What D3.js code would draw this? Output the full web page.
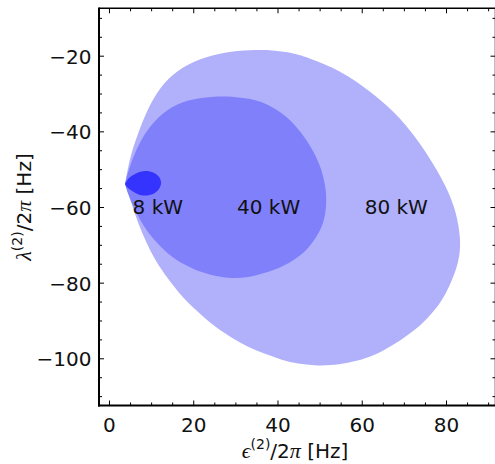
<!DOCTYPE html>
<html><head><meta charset="utf-8">
<script src="https://cdn.jsdelivr.net/npm/d3@7"></script>
<style>body{margin:0;background:#fff}svg{display:block}</style>
</head><body><svg id="c" width="495" height="464"></svg>
<script>
// ---- data ----
const xTicks = [0, 20, 40, 60, 80];
const yTicks = [-20, -40, -60, -80, -100];
const xMinorTicks = [5, 10, 15, 25, 30, 35, 45, 50, 55, 65, 70, 75, 85, 90];
const yMinorTicks = [-110, -105, -95, -90, -85, -75, -70, -65, -55, -50, -45, -35, -30, -25, -15, -10];

const region80 = [[3.80,-53.92],[4.99,-46.78],[6.65,-41.23],[9.02,-34.36],[12.11,-28.27],[16.14,-23.78],
  [21.60,-20.74],[27.54,-19.02],[33.47,-18.49],[38.93,-18.49],[42.97,-19.15],[46.99,-20.34],
  [54.84,-23.78],[62.67,-29.86],[69.08,-36.21],[74.54,-44.14],[79.29,-52.86],[82.14,-60.0],
  [83.32,-66.87],[83.44,-71.37],[82.61,-76.13],[80.95,-80.62],[79.05,-84.85],[75.73,-89.35],
  [72.64,-92.52],[69.08,-95.43],[65.04,-98.07],[60.77,-100.19],[56.73,-101.24],[52.46,-101.91],
  [48.90,-101.91],[44.86,-101.51],[41.07,-100.45],[37.04,-98.86],[33.0,-97.01],[29.20,-94.63],
  [25.16,-91.72],[21.13,-87.76],[17.33,-83.79],[14.01,-79.03],[10.92,-74.01],[8.78,-69.25],
  [6.89,-64.23],[5.46,-59.47],[4.51,-56.03],[3.80,-53.92]];
const region40 = [[3.80,-53.92],[4.75,-49.69],[7.36,-42.29],[11.39,-36.21],[16.14,-32.51],[21.60,-31.05],
  [27.06,-30.65],[31.10,-31.05],[35.85,-31.71],[41.30,-35.15],[44.39,-38.59],[47.0,-42.29],
  [50.09,-48.37],[51.75,-55.51],[51.51,-62.12],[50.09,-66.61],[47.48,-70.84],[44.39,-73.75],
  [41.07,-75.86],[37.03,-77.45],[32.99,-78.64],[29.20,-78.90],[25.16,-78.24],[21.13,-77.05],
  [17.80,-75.20],[14.72,-73.09],[11.87,-70.05],[9.26,-66.87],[7.36,-63.44],[5.70,-59.74],
  [4.51,-56.56],[3.80,-53.92]];
const region8 = [[3.80,-53.92],[4.75,-52.33],[6.41,-51.14],[8.07,-50.56],[9.73,-50.61],[11.16,-51.28],
  [12.11,-52.47],[12.35,-53.79],[11.87,-55.24],[10.68,-56.43],[9.02,-56.96],[7.36,-56.83],
  [5.70,-55.90],[4.51,-54.98],[3.80,-53.92]];

const labelTexts = ["8 kW", "40 kW", "80 kW"];
const labelX = [11.6, 37.9, 68.2];
const labelY = [-60, -60, -60];

// ---- styles ----
const regionColors = ["#b0b0fb", "#8080fb", "#3434fe"];

const svg = d3.select("#c");
const x = d3.scaleLinear().domain([-2.37, 91.75]).range([99, 495.5]);
const y = d3.scaleLinear().domain([-112.48, -7.47]).range([405.5, 8.3]);

const smooth = d3.line().x(d => x(d[0])).y(d => y(d[1])).curve(d3.curveBasis);
const exact = d3.line().x(d => x(d[0])).y(d => y(d[1])).curve(d3.curveCatmullRom.alpha(0.5));
svg.append("path").attr("d", smooth(region80) + "Z").attr("fill", regionColors[0]);
svg.append("path").attr("d", smooth(region40) + "Z").attr("fill", regionColors[1]);
svg.append("path").attr("d", exact(region8) + "Z").attr("fill", regionColors[2]);

const font = "DejaVu Sans";
svg.selectAll("text.lab").data(labelTexts).join("text").attr("class", "lab")
  .attr("x", (d, i) => x(labelX[i])).attr("y", (d, i) => y(labelY[i]))
  .attr("text-anchor", "middle").attr("dy", "0.36em")
  .style("font-family", font).style("font-size", "20px").attr("fill", "#111")
  .text(d => d);

function styleAxis(g) {
  g.select(".domain").remove();
  g.selectAll(".tick line").attr("stroke", "#000").attr("stroke-width", 1);
  g.selectAll("text").style("font-family", font).style("font-size", "20px").attr("fill", "#111");
}
// bottom
const gb = svg.append("g").attr("transform", "translate(0,405.5)");
gb.call(d3.axisBottom(x).tickValues(xTicks).tickSize(-5).tickPadding(13).tickFormat(d3.format("d")));
styleAxis(gb);
gb.selectAll(".tick text").attr("y", 12).attr("dy", "0.71em");
const gbm = svg.append("g").attr("transform", "translate(0,405.5)");
gbm.call(d3.axisBottom(x).tickValues(xMinorTicks).tickSize(-3).tickFormat(""));
styleAxis(gbm);
// top
const gt = svg.append("g").attr("transform", "translate(0,8.3)");
gt.call(d3.axisBottom(x).tickValues(xTicks).tickSize(5).tickFormat(""));
styleAxis(gt);
const gtm = svg.append("g").attr("transform", "translate(0,8.3)");
gtm.call(d3.axisBottom(x).tickValues(xMinorTicks).tickSize(3).tickFormat(""));
styleAxis(gtm);
// left
const gl = svg.append("g").attr("transform", "translate(99,0)");
gl.call(d3.axisLeft(y).tickValues(yTicks).tickSize(-5).tickPadding(8));
styleAxis(gl);
gl.selectAll(".tick text").attr("x", -7.5).attr("dy", "0.37em");
const glm = svg.append("g").attr("transform", "translate(99,0)");
glm.call(d3.axisLeft(y).tickValues(yMinorTicks).tickSize(-3).tickFormat(""));
styleAxis(glm);
// right
const gr = svg.append("g").attr("transform", "translate(495.5,0)");
gr.call(d3.axisLeft(y).tickValues(yTicks).tickSize(5).tickFormat(""));
styleAxis(gr);
const grm = svg.append("g").attr("transform", "translate(495.5,0)");
grm.call(d3.axisLeft(y).tickValues(yMinorTicks).tickSize(3).tickFormat(""));
styleAxis(grm);

// frame
svg.append("line").attr("x1", 99).attr("x2", 495.5).attr("y1", 8.3).attr("y2", 8.3).attr("stroke", "#000").attr("stroke-width", 1.5);
svg.append("line").attr("x1", 495.5).attr("x2", 495.5).attr("y1", 8.3).attr("y2", 405.5).attr("stroke", "#000").attr("stroke-width", 1.5);
svg.append("line").attr("x1", 99).attr("x2", 99).attr("y1", 7.5).attr("y2", 406.5).attr("stroke", "#000").attr("stroke-width", 2);
svg.append("line").attr("x1", 98).attr("x2", 495.5).attr("y1", 405.5).attr("y2", 405.5).attr("stroke", "#000").attr("stroke-width", 2);

// axis titles
const serif = "Liberation Serif";
const xt = svg.append("text").attr("x", 295).attr("y", 458).attr("text-anchor", "middle")
  .style("font-family", font).style("font-size", "20px").attr("fill", "#111");
xt.append("tspan").style("font-family", serif).style("font-style", "italic").style("font-size", "22px").text("\u03F5");
xt.append("tspan").attr("dy", -9).style("font-size", "14px").text("(2)");
xt.append("tspan").attr("dy", 9).text("/2");
xt.append("tspan").style("font-family", serif).style("font-style", "italic").style("font-size", "22px").text("\u03C0");
xt.append("tspan").text(" [Hz]");

const yt = svg.append("text").attr("transform", "translate(31,207) rotate(-90)").attr("text-anchor", "middle")
  .style("font-family", font).style("font-size", "20px").attr("fill", "#111");
yt.append("tspan").style("font-family", serif).style("font-style", "italic").style("font-size", "22px").text("\u03BB");
yt.append("tspan").attr("dy", -9).style("font-size", "14px").text("(2)");
yt.append("tspan").attr("dy", 9).text("/2");
yt.append("tspan").style("font-family", serif).style("font-style", "italic").style("font-size", "22px").text("\u03C0");
yt.append("tspan").text(" [Hz]");
</script>
</body></html>
